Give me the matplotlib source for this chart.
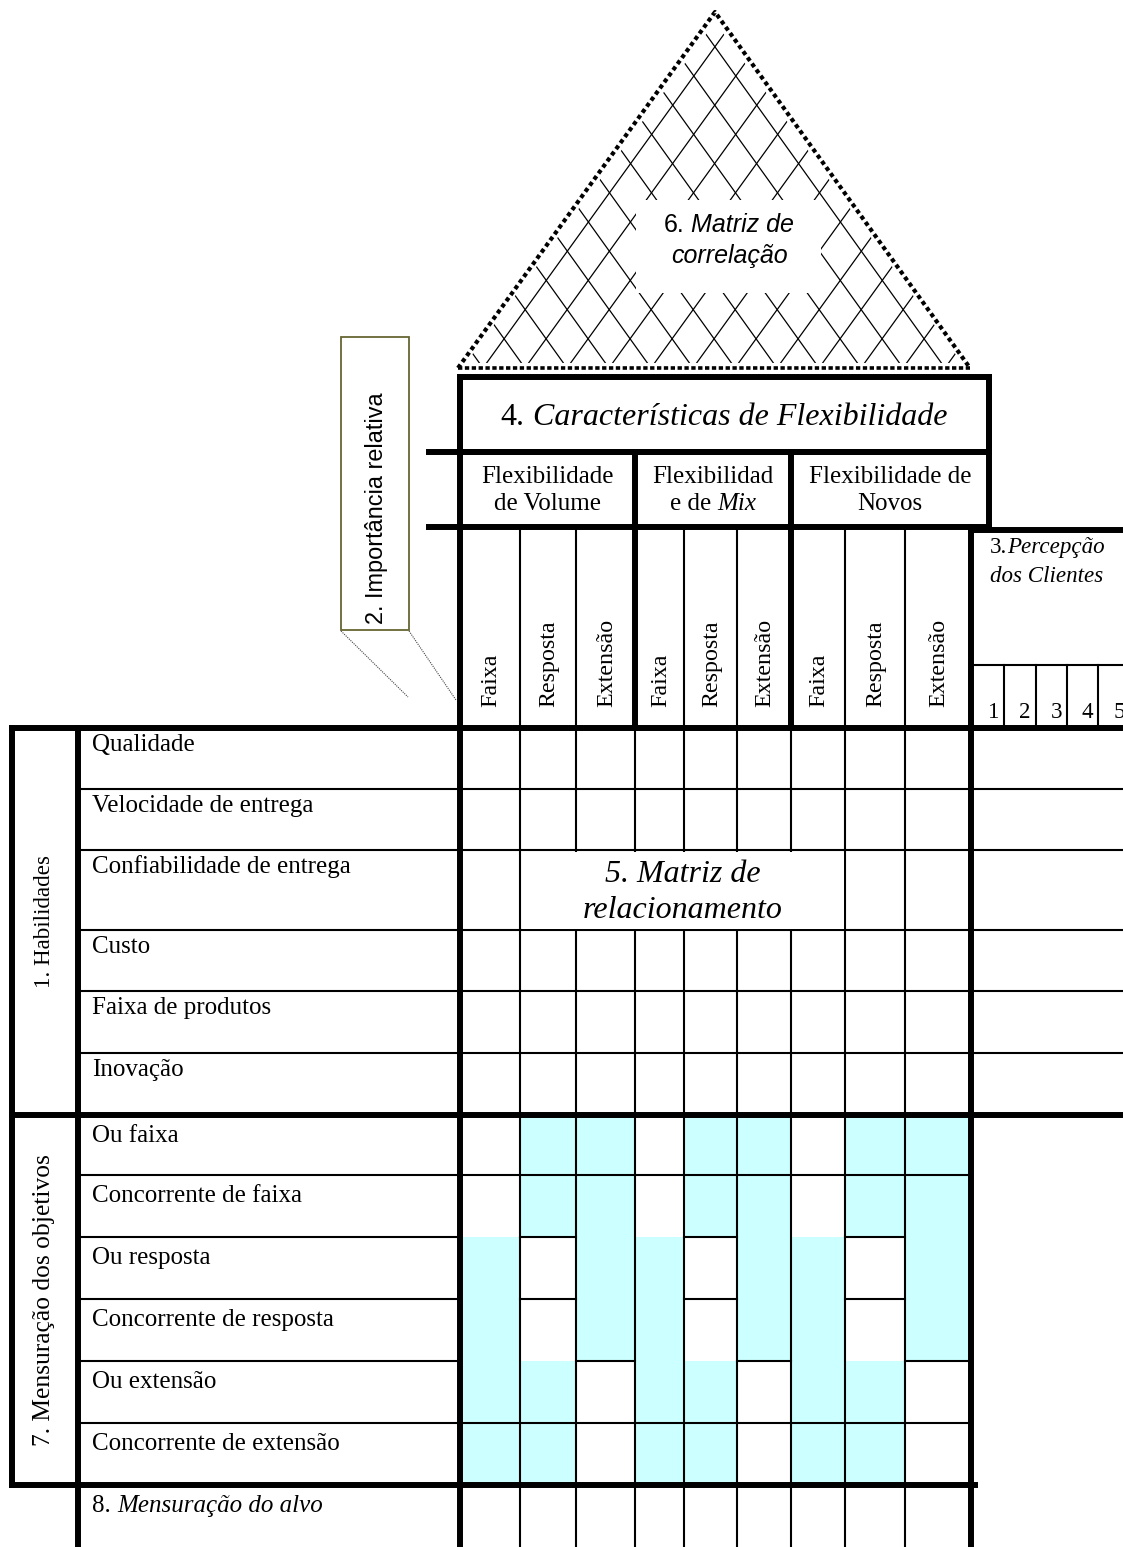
import matplotlib.pyplot as plt
from matplotlib.patches import Rectangle, Polygon

W, H = 1123, 1547

# ---- content ----
titulo_caract = [('4.', 'normal'), (' Características de Flexibilidade', 'italic')]
grupos = [
    [[('Flexibilidade', 'normal')], [('de Volume', 'normal')]],
    [[('Flexibilidad', 'normal')], [('e de', 'normal'), (' Mix', 'italic')]],
    [[('Flexibilidade de', 'normal')], [('Novos', 'normal')]],
]
sub_cols = ['Faixa', 'Resposta', 'Extensão'] * 3
habilidades = ['Qualidade', 'Velocidade de entrega', 'Confiabilidade de entrega',
               'Custo', 'Faixa de produtos', 'Inovação']
objetivos = ['Ou faixa', 'Concorrente de faixa', 'Ou resposta',
             'Concorrente de resposta', 'Ou extensão', 'Concorrente de extensão']
escala = ['1', '2', '3', '4', '5']
# 1 = shaded cell in the "Mensuração dos objetivos" block
sombra = [
    [0, 1, 1, 0, 1, 1, 0, 1, 1],
    [0, 1, 1, 0, 1, 1, 0, 1, 1],
    [1, 0, 1, 1, 0, 1, 1, 0, 1],
    [1, 0, 1, 1, 0, 1, 1, 0, 1],
    [1, 1, 0, 1, 1, 0, 1, 1, 0],
    [1, 1, 0, 1, 1, 0, 1, 1, 0],
]

# ---- layout (pixels) ----
cols = [460, 520, 576, 635, 684, 737, 791, 845, 905, 971]
grp_x = [460, 635, 791, 989]
rows_hab = [728, 789, 850, 930, 991, 1053, 1115]
rows_obj = [1115, 1175, 1237, 1299, 1361, 1423, 1485]
perc_x = [971, 1004, 1036, 1067, 1098, 1130]

SERIF = 'Liberation Serif'
SANS = 'Liberation Sans'
THIN, THICK = 1.5, 4.3
CYAN = '#ccffff'


def pt(px):
    return px * 0.72


fig = plt.figure(figsize=(W / 100, H / 100), dpi=100)
ax = fig.add_axes([0, 0, 1, 1])
ax.set_xlim(0, W)
ax.set_ylim(H, 0)
ax.axis('off')
renderer = fig.canvas.get_renderer()


def hline(y, x0, x1, lw=THIN, z=2):
    ax.plot([x0, x1], [y, y], color='k', lw=lw, solid_capstyle='projecting', zorder=z)


def vline(x, y0, y1, lw=THIN, z=2):
    ax.plot([x, x], [y0, y1], color='k', lw=lw, solid_capstyle='projecting', zorder=z)


def mixed(x, y, parts, px, family=SERIF, ha='center', z=5):
    texts, widths = [], []
    for s, style in parts:
        lead = len(s) - len(s.lstrip(' '))
        t = ax.text(0, y, s.strip(' '), fontsize=pt(px), family=family, style=style,
                    va='baseline', ha='left', zorder=z)
        w = t.get_window_extent(renderer).width
        texts.append((t, lead * 0.26 * px))
        widths.append(w + lead * 0.26 * px)
    total = sum(widths)
    x0 = x - total / 2 if ha == 'center' else x
    for (t, gap), w in zip(texts, widths):
        t.set_x(x0 + gap)
        x0 += w


# ---- correlation roof ----
apex, bl, br = (715, 12), (458, 368), (970, 368)
clip = Polygon([(466, 363), (962, 363), (715, 22)], closed=True, transform=ax.transData)
base_pts = [483 + 42 * k for k in range(12)]
for xb in base_pts:
    for dx in (apex[0] - bl[0], apex[0] - br[0]):
        ln, = ax.plot([xb, xb + dx * 1.3], [368, 368 - 356 * 1.3], color='k', lw=0.9, zorder=2)
        ln.set_clip_path(clip)
ax.plot([bl[0], apex[0], br[0]], [bl[1], apex[1], br[1]], color='k', lw=3,
        linestyle=(0, (1, 0.8)), zorder=3)
ax.plot([bl[0], br[0]], [368, 368], color='k', lw=2.6, linestyle=(0, (1.2, 0.7)), zorder=3)
ax.add_patch(Rectangle((636, 200), 185, 93, fc='white', ec='none', zorder=4))
mixed(729, 232, [('6.', 'normal'), (' Matriz de', 'italic')], 25, family=SANS)
mixed(729, 263, [('correlação', 'italic')], 25, family=SANS)

# ---- importance box ----
ax.add_patch(Rectangle((341, 337), 68, 293, fc='white', ec='#666633', lw=1.3, zorder=2))
ax.text(377, 624, '2. Importância relativa', family=SANS, fontsize=pt(23.5), rotation=90,
        ha='center', va='bottom', zorder=5)
ax.plot([341, 408], [631, 697], color='#444444', lw=0.8, linestyle=(0, (1, 1)))
ax.plot([409, 456], [631, 700], color='#444444', lw=0.8, linestyle=(0, (1, 1)))

# ---- header ----
ax.add_patch(Rectangle((460, 377), 529, 75, fc='none', ec='k', lw=THICK, zorder=3))
mixed(724, 425, titulo_caract, 32)
hline(452, 429, 989, THICK)
hline(527, 429, 989, THICK)
vline(989, 377, 527, THICK)
for gx in grp_x[1:3]:
    vline(gx, 452, 728, THICK)
for (l1, l2), x0, x1 in zip(grupos, grp_x[:-1], grp_x[1:]):
    mixed((x0 + x1) / 2, 483, l1, 25)
    mixed((x0 + x1) / 2, 510, l2, 25)
for j, lab in enumerate(sub_cols):
    if cols[j] not in grp_x:
        vline(cols[j], 527, 728)
    ax.text((cols[j] + cols[j + 1]) / 2 + 1, 707, lab, family=SERIF, fontsize=pt(24),
            rotation=90, ha='center', va='bottom', zorder=5)

# customer perception
hline(530, 971, W + 5, THICK)
mixed(1047, 553, [('3.', 'normal'), ('Percepção', 'italic')], 23)
mixed(1047, 582, [('dos Clientes', 'italic')], 23)
hline(665, 971, W + 5)
for k, num in enumerate(escala):
    if k > 0:
        vline(perc_x[k], 665, 728)
    ax.text(perc_x[k + 1] - 5, 718, num, family=SERIF, fontsize=pt(23), ha='right',
            va='baseline', zorder=5)

# ---- main frame ----
vline(460, 377, H + 5, THICK)
vline(971, 527, H + 5, THICK)
vline(78, 728, H + 5, THICK)
vline(12, 728, 1485, THICK)
hline(728, 12, W + 5, THICK)
hline(1115, 12, W + 5, THICK)
hline(1485, 12, 975, THICK)

# section 1: habilidades
for y in rows_hab[1:-1]:
    hline(y, 78, W + 5)
for x in cols[1:-1]:
    vline(x, 728, 1115)
for i, lab in enumerate(habilidades):
    ax.text(92, rows_hab[i] + 23, lab, family=SERIF, fontsize=pt(25), va='baseline', zorder=5)
ax.text(44, (rows_hab[0] + rows_hab[-1]) / 2, '1. Habilidades', family=SERIF,
        fontsize=pt(23), rotation=90, ha='center', va='center', zorder=5)
ax.add_patch(Rectangle((cols[1] + 1.5, rows_hab[2] + 1.5), cols[7] - cols[1] - 3,
                       rows_hab[3] - rows_hab[2] - 3, fc='white', ec='none', zorder=3))
mixed((cols[1] + cols[7]) / 2, 882, [('5. Matriz de', 'italic')], 32)
mixed((cols[1] + cols[7]) / 2, 918, [('relacionamento', 'italic')], 32)

# section 7: objetivos
for i, row in enumerate(sombra):
    for j, s in enumerate(row):
        if s:
            ax.add_patch(Rectangle((cols[j], rows_obj[i]), cols[j + 1] - cols[j],
                                   rows_obj[i + 1] - rows_obj[i], fc=CYAN, ec='none', zorder=1))
for i in range(1, len(rows_obj) - 1):
    y = rows_obj[i]
    hline(y, 78, 460)
    for j in range(9):
        if i in (1, 5) or not sombra[i][j]:
            hline(y, cols[j], cols[j + 1])
for x in cols[1:-1]:
    vline(x, 1115, H + 5)
for i, lab in enumerate(objetivos):
    ax.text(92, rows_obj[i] + 27, lab, family=SERIF, fontsize=pt(25), va='baseline', zorder=5)
ax.text(44, (rows_obj[0] + rows_obj[-1]) / 2, '7. Mensuração dos objetivos', family=SERIF,
        fontsize=pt(25.5), rotation=90, ha='center', va='center', zorder=5)

# section 8
mixed(92, 1512, [('8.', 'normal'), (' Mensuração do alvo', 'italic')], 25, ha='left')

fig.savefig('out.png', dpi=100)
